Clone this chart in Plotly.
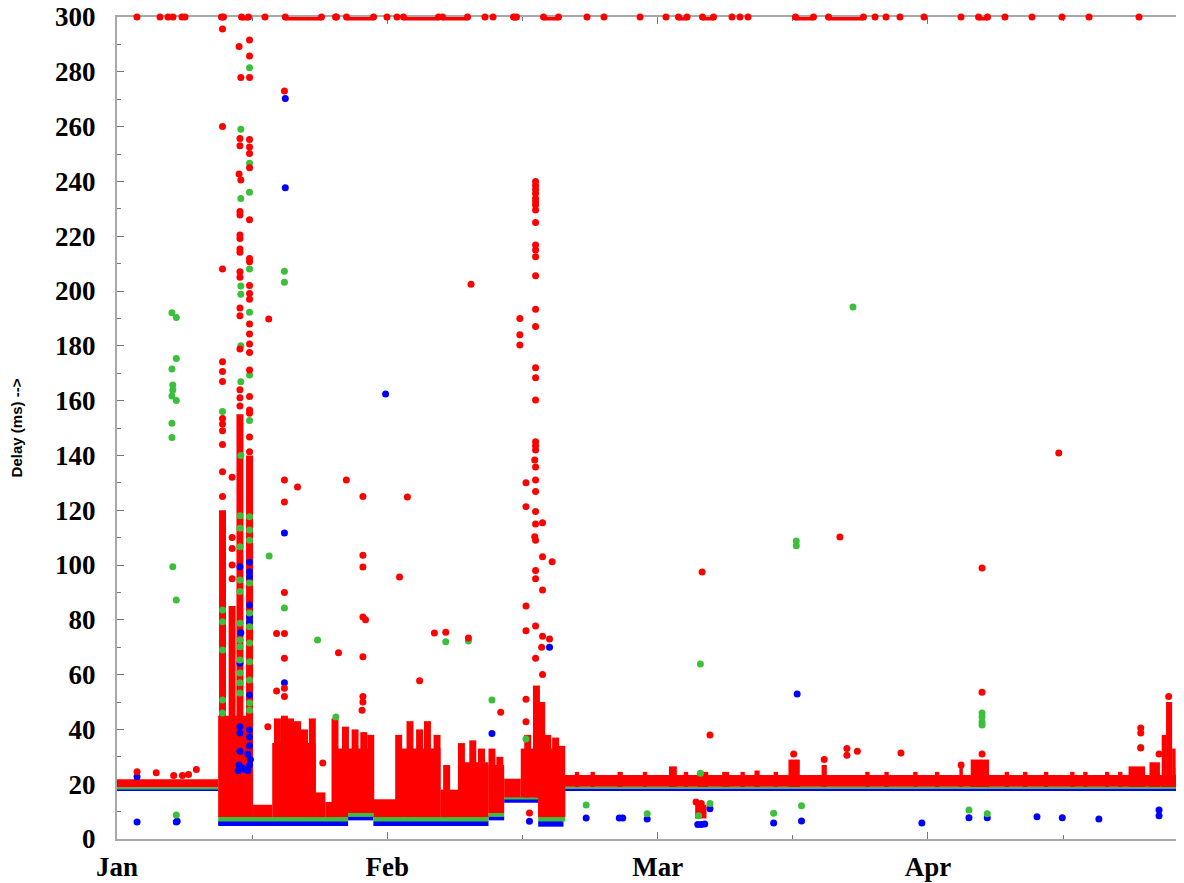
import plotly.graph_objects as go

# x = days since 1 Jan (month ticks every 31 days), y = delay in ms
month_pos = [0, 31, 62, 93]
month_labels = ["Jan", "Feb", "Mar", "Apr"]
mid_month_pos = [15.5, 46.5, 77.5, 108.5]
x_max = 122.36
y_max = 300

# dense bands of samples: (start day, end day, low ms, high ms)
blue_bands = [
    (0.0, 11.6, 17.6, 18.3), (11.6, 26.5, 4.7, 6.6), (26.5, 29.4, 6.8, 8.3),
    (29.4, 42.6, 4.7, 6.6), (42.6, 44.4, 6.8, 8.3), (44.4, 48.3, 13.2, 14.6),
    (48.3, 51.2, 4.5, 6.6), (51.2, 122.4, 17.5, 18.4),
]
green_bands = [
    (0.0, 11.6, 18.1, 18.9), (11.6, 26.5, 6.4, 8.2), (26.5, 29.4, 8.1, 9.7),
    (29.4, 42.6, 6.4, 8.2), (42.6, 44.4, 8.1, 9.7), (44.4, 48.3, 14.4, 15.4),
    (48.3, 51.2, 6.4, 8.2), (51.0, 51.4, 6.4, 19.0), (51.2, 122.4, 18.3, 19.1),
]
red_bands = [
    (0.0, 11.6, 18.9, 21.8), (51.2, 122.4, 19.1, 23.4),
    (11.6, 15.6, 8, 45), (15.6, 17.8, 8, 12.5), (17.8, 22.8, 8, 35),
    (22.8, 23.9, 8, 17), (23.9, 24.7, 8, 13.5), (24.7, 26.5, 8, 33),
    (26.5, 29.4, 9.5, 33), (29.4, 32.0, 8, 14.5), (32.0, 37.1, 8, 33),
    (37.1, 39.3, 8, 18), (39.3, 42.6, 8, 28), (42.6, 44.4, 9.5, 27),
    (44.4, 46.3, 15.2, 22), (46.3, 48.3, 15.2, 33), (48.3, 51.2, 8, 33),
    (57.4, 58.0, 19, 24.5), (63.3, 64.2, 19, 26.5), (66.3, 67.6, 7.5, 12.5),
    (66.6, 67.8, 19, 24.5), (69.4, 70.2, 19, 24.5), (73.1, 73.7, 19, 25),
    (77.0, 78.3, 19, 29), (80.8, 81.4, 19, 27), (96.6, 97.0, 19, 26),
    (97.9, 100.0, 19, 29), (116.0, 117.9, 19, 26.5), (118.4, 119.6, 19, 28),
    (119.8, 120.3, 19, 38), (120.3, 121.0, 19, 50), (121.0, 121.4, 19, 33),
    (121.4, 122.4, 19, 26),
    (52.5, 53.0, 19, 24.5), (54.3, 54.8, 19, 24.5), (60.3, 60.8, 19, 24.5),
    (65.0, 65.5, 19, 24.5), (71.5, 72.0, 19, 24.5), (75.3, 75.8, 19, 24.5),
    (85.8, 86.3, 19, 24.5), (88.0, 88.5, 19, 24.5), (91.3, 91.8, 19, 24.5),
    (93.8, 94.3, 19, 24.5), (101.8, 102.3, 19, 24.5), (103.9, 104.4, 19, 24.5),
    (106.3, 106.8, 19, 24.5), (109.3, 109.8, 19, 24.5), (110.8, 111.3, 19, 24.5),
    (113.3, 113.8, 19, 24.5), (114.8, 115.3, 19, 24.5),
]
# daily columns of red samples: (day, low ms, high ms)
red_columns = [
    (12.1, 8, 120), (13.2, 8, 85), (14.1, 8, 155), (15.2, 8, 140),
    (18.4, 8, 44), (19.2, 8, 45), (19.9, 8, 44), (20.7, 8, 43), (21.5, 8, 40), (22.4, 8, 44),
    (25.0, 8, 44), (26.2, 9.5, 41), (27.3, 9.5, 40), (28.3, 9.5, 39), (29.1, 9.5, 38),
    (32.3, 8, 38), (33.6, 8, 43), (34.7, 8, 40), (35.6, 8, 43), (36.7, 8, 38),
    (37.8, 8, 27),
    (39.5, 8, 35), (40.8, 8, 36), (41.8, 8, 33), (43.0, 9.5, 33), (43.9, 9.5, 30),
    (47.1, 15.2, 38), (48.1, 15.2, 56), (48.7, 8, 50), (49.4, 8, 38), (50.3, 8, 37), (51.0, 8, 34),
]

# isolated samples: (day, ms)
red_points = [
    (2.3, 24.5), (4.5, 24.2), (6.5, 23.2), (7.5, 23.2), (8.2, 23.5), (9.1, 25.4),
    (12.1, 125), (12.1, 134), (12.1, 144), (12.1, 149), (12.1, 151.5), (12.1, 153.5),
    (12.1, 167), (12.1, 170.6), (12.1, 174.2), (12.1, 208), (12.1, 260), (12.1, 295.6),
    (13.2, 95), (13.2, 100), (13.2, 106), (13.2, 110), (13.2, 132),
    (14.1, 158), (14.1, 161), (14.1, 164), (14.1, 178.8), (14.1, 191), (14.1, 193.8),
    (14.1, 205), (14.1, 207), (14.1, 214.1), (14.1, 215.3), (14.1, 219.2), (14.1, 220.4),
    (14.1, 227.7), (14.1, 229), (14.2, 240.5), (14.0, 242.7), (14.1, 253), (14.1, 255.7),
    (14.2, 277.9), (14.0, 289.2),
    (15.2, 141.3), (15.2, 146.7), (15.2, 155.4), (15.2, 156.6), (15.2, 161.5), (15.2, 171.2),
    (15.2, 177.6), (15.2, 180.7), (15.2, 184.3), (15.2, 188), (15.2, 197), (15.2, 199.1),
    (15.2, 202), (15.2, 210.7), (15.2, 211.9), (15.2, 226), (15.2, 245), (15.2, 250.2),
    (15.2, 252.6), (15.2, 255.3), (15.2, 277.9), (15.2, 285.8), (15.2, 291.6),
    (17.4, 189.8), (17.3, 41), (18.3, 75), (18.3, 54), (19.2, 273), (19.2, 131), (19.2, 123),
    (19.2, 90), (19.2, 75), (19.2, 66), (19.2, 55), (19.2, 52), (20.7, 128.5),
    (23.6, 27.7), (25.4, 68), (26.3, 131), (28.2, 125), (28.2, 103.6), (28.2, 99.3),
    (28.2, 81), (28.5, 80), (28.2, 66.5), (28.2, 52), (28.2, 50), (28.1, 47),
    (33.3, 124.8), (32.4, 95.6), (34.7, 57.8), (36.4, 75.2), (37.7, 75.5), (40.3, 73.4),
    (40.6, 202.5), (44.0, 46.3), (47.3, 9.5),
    (48.0, 240), (48.0, 238.5), (48.0, 237), (48.0, 235.6), (48.0, 233.8), (48.0, 232.6),
    (48.0, 231.4), (48.0, 229.6), (48.0, 225), (48.0, 216.8), (48.0, 215), (48.0, 212.5),
    (48.0, 205.6), (48.0, 193.3), (48.0, 187), (48.0, 172), (48.0, 168.3), (48.0, 160.2),
    (48.0, 145), (48.0, 143.5), (48.0, 142), (47.9, 138.3), (48.0, 135.8), (48.0, 131),
    (48.0, 126.8), (48.0, 119.5), (48.0, 115), (47.9, 110.3), (48.0, 109), (48.0, 98),
    (48.0, 95), (48.0, 77.7), (48.0, 66),
    (46.2, 190), (46.2, 184), (46.2, 180.3), (46.9, 130), (46.9, 121.3), (46.9, 85),
    (46.9, 76), (46.9, 51), (46.9, 42.8),
    (48.8, 115.4), (48.8, 103), (48.8, 90.9), (48.8, 74), (48.7, 70), (48.8, 60),
    (49.9, 101.2), (49.6, 73),
    (67.1, 97.4), (68.0, 38), (82.9, 110.2), (83.7, 33), (83.7, 30.6), (84.9, 32),
    (89.9, 31.4), (99.2, 98.9), (99.2, 53.6), (99.2, 31), (108.0, 140.9), (117.4, 38.7),
    (117.4, 40.5), (117.4, 33.2), (120.6, 52), (96.8, 27), (119.5, 31),
    (66.4, 13.5), (67.0, 13), (77.6, 31), (81.1, 29),
]
green_points = [
    (6.3, 192.1), (6.8, 190.3), (6.8, 175.4), (6.3, 171.5), (6.4, 165.7), (6.4, 163.9),
    (6.3, 161.7), (6.8, 160), (6.3, 151.7), (6.3, 146.5), (6.4, 99.4), (6.8, 87.2), (6.8, 8.8),
    (15.2, 281.5), (14.2, 259), (15.2, 246.6), (15.2, 236), (14.2, 233.8), (15.2, 208),
    (14.2, 201.8), (14.2, 198.8), (15.2, 192.2), (14.2, 180), (15.2, 169.3), (14.2, 166.9),
    (12.1, 156), (15.2, 152.7), (14.2, 140),
    (14.1, 118), (14.1, 113.4), (14.1, 106.7), (14.1, 94.5), (14.1, 90.3), (14.1, 78.7),
    (14.1, 72.6), (14.1, 70.2), (14.1, 65.3), (14.1, 60.6), (14.1, 57), (14.1, 53.3),
    (15.2, 117.6), (15.2, 112.8), (15.2, 109), (15.2, 93.4), (15.2, 82.5), (15.2, 77.5),
    (15.2, 71.5), (15.2, 64.7), (15.2, 58), (15.2, 49.6), (15.2, 47),
    (12.1, 83.6), (12.1, 79.3), (12.1, 69), (12.1, 50.7), (12.1, 46),
    (19.2, 207.2), (19.2, 203.2), (19.2, 84.3), (17.45, 103.3), (23.0, 72.6), (25.1, 44.5),
    (37.7, 72), (40.3, 72.3), (43.0, 50.7), (46.9, 36.5),
    (53.8, 12.4), (60.8, 9.2), (66.9, 24), (66.9, 63.9), (68.0, 13), (75.3, 9.4),
    (78.5, 12.1), (77.9, 108.8), (77.9, 107), (84.4, 194.2), (97.7, 10.6), (99.8, 9.2),
    (99.2, 46), (99.2, 44.5), (99.2, 42.7), (99.2, 41.6), (117.4, 33.5), (66.7, 8.5),
]
blue_points = [
    (2.3, 6.2), (2.3, 22.7), (6.8, 6.2), (6.9, 6.5),
    (14.1, 99.4), (14.2, 75.3), (14.1, 64.1), (14.1, 41), (14.1, 38.7),
    (15.2, 101), (15.2, 97.5), (15.2, 95.7), (15.2, 85.4), (15.2, 81), (15.2, 79.3),
    (15.2, 52.6), (15.2, 39.8), (15.2, 37.2),
    (13.9, 25), (14.0, 27), (14.3, 26), (14.6, 25.5), (15.0, 25), (15.2, 27), (15.3, 29),
    (15.0, 31), (15.2, 34), (14.1, 32),
    (19.3, 270.3), (19.3, 237.7), (19.2, 111.7), (19.2, 57), (30.8, 162.4), (43.0, 38.5),
    (49.6, 70), (47.3, 6.5),
    (53.8, 7.7), (57.6, 7.7), (58.0, 7.7), (60.8, 7.3), (66.6, 5.3), (67.0, 5.3), (67.4, 5.5),
    (68.0, 11), (75.3, 5.8), (78.0, 52.9), (78.5, 6.6), (92.3, 5.8), (97.7, 7.8), (99.8, 7.8),
    (105.5, 8.1), (108.4, 7.8), (112.6, 7.3), (119.5, 10.6), (119.5, 8.5), (121.9, 11),
    (121.9, 8.5),
]
# samples above the scale, drawn on the 300 ms line
clipped_days = [2.29, 4.93, 5.85, 6.42, 7.45, 7.8, 16.97, 30.96, 32.11, 42.2, 43.12,
                53.9, 55.85, 59.98, 62.96, 70.53, 71.44, 72.36, 86.93, 88.19, 89.79,
                92.55, 96.79, 101.83, 104.93, 108.37, 111.47, 117.2]
clipped_runs = [(11.98, 12.21), (14.28, 15.08), (19.3, 23.45), (25.06, 25.17),
                (26.32, 29.42), (32.85, 36.87), (37.33, 40.2), (45.47, 45.81),
                (48.91, 50.63), (64.39, 65.37), (67.14, 68.41), (77.81, 79.87),
                (81.59, 85.6), (98.8, 99.83)]

RED = "#ff0000"
GREEN = "#3cbf3c"
BLUE = "#0000ff"

fig = go.Figure()


def add_bands(bands, color):
    fig.add_trace(go.Bar(
        x=[(a + b) / 2 for a, b, lo, hi in bands],
        width=[b - a for a, b, lo, hi in bands],
        base=[lo for a, b, lo, hi in bands],
        y=[hi - lo for a, b, lo, hi in bands],
        marker=dict(color=color, line=dict(width=0)), opacity=1,
        showlegend=False, hoverinfo="skip"))


add_bands(blue_bands, BLUE)
add_bands(green_bands, GREEN)
add_bands(red_bands, RED)
fig.add_trace(go.Bar(
    x=[c[0] for c in red_columns], width=[0.8] * len(red_columns),
    base=[c[1] for c in red_columns], y=[c[2] - c[1] for c in red_columns],
    marker=dict(color=RED, line=dict(width=0)), opacity=1,
    showlegend=False, hoverinfo="skip"))


def add_points(pts, color):
    fig.add_trace(go.Scatter(
        x=[p[0] for p in pts], y=[p[1] for p in pts], mode="markers",
        marker=dict(color=color, size=7, line=dict(width=0)),
        cliponaxis=False, showlegend=False, hoverinfo="skip"))


add_points(blue_points, BLUE)
add_points(green_points, GREEN)
add_points(red_points, RED)

run_x, run_y = [], []
for a, b in clipped_runs:
    run_x += [a, b, None]
    run_y += [y_max, y_max, None]
fig.add_trace(go.Scatter(
    x=run_x, y=run_y, mode="lines+markers",
    line=dict(color=RED, width=7), marker=dict(color=RED, size=7),
    cliponaxis=False, showlegend=False, hoverinfo="skip"))
fig.add_trace(go.Scatter(
    x=clipped_days, y=[y_max] * len(clipped_days), mode="markers",
    marker=dict(color=RED, size=7), cliponaxis=False,
    showlegend=False, hoverinfo="skip"))

tick_font = dict(family="Liberation Serif", size=27, color="black", weight="bold")
AXIS_GRAY = "#a8a8a8"

# the page body adds an 8 px offset, so margins are reduced by 8 px
fig.update_layout(
    width=1176, height=875,
    margin=dict(l=109, r=0, t=9, b=44),
    paper_bgcolor="white", plot_bgcolor="white",
    barmode="overlay", showlegend=False,
    xaxis=dict(
        range=[0, x_max], tickmode="array", tickvals=month_pos, ticktext=month_labels,
        ticks="inside", ticklen=7, tickwidth=1, tickcolor="#777",
        minor=dict(tickmode="array", tickvals=mid_month_pos, ticks="inside",
                   ticklen=4, tickcolor="#777"),
        showline=True, linecolor=AXIS_GRAY, linewidth=2, mirror="ticks",
        showgrid=False, zeroline=False, tickfont=tick_font,
        ticklabelstandoff=3, ticklabeloverflow="allow",
        layer="below traces", fixedrange=True, automargin=False,
    ),
    yaxis=dict(
        range=[0, y_max], tickmode="linear", tick0=0, dtick=20,
        ticks="inside", ticklen=7, tickwidth=1, tickcolor="#777",
        minor=dict(dtick=10, ticks="inside", ticklen=4, tickcolor="#777"),
        showline=True, linecolor=AXIS_GRAY, linewidth=2,
        showgrid=False, zeroline=False, tickfont=tick_font,
        ticklabelstandoff=14, ticklabeloverflow="allow",
        layer="below traces", fixedrange=True, automargin=False,
        title=dict(text="Delay (ms) -->", standoff=29,
                   font=dict(family="Liberation Sans", size=15, color="black",
                             weight="bold")),
    ),
)

fig.write_html("out.html")
